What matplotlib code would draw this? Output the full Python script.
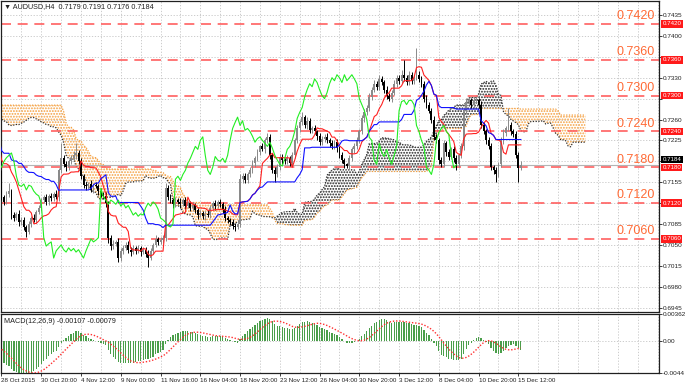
import matplotlib
matplotlib.use('Agg')
import matplotlib.pyplot as plt
import numpy as np

# prices are pips above 0.7000 (e.g. 130 -> 0.7130)
# 78 H4 bars before the first visible bar (needed by ichimoku / macd)
pre_close = [230, 238, 245, 250, 262, 270, 280, 290, 300, 315, 330, 340, 350,
             355, 362, 358, 365, 360, 370, 365, 372, 368, 362, 370, 375,
             372,
             378, 370, 372, 365, 358, 350, 355, 345, 340, 335, 330, 320, 325,
             315, 305, 300, 290, 285, 280, 272, 260, 245, 232,
             210, 190, 200, 215, 230, 245, 255, 262, 270, 275, 280, 285, 278, 282, 272, 268, 275, 265, 258, 262,
             255, 248, 250, 240, 245, 235,
             215, 195, 170]
pre_up = [4, 5, 3, 6, 4, 5, 3, 6, 4, 5, 7, 4, 5,
          4, 6, 3, 5, 4, 6, 3, 5, 4, 6, 5, 4,
          3,
          4, 5, 3, 6, 4, 5, 3, 4, 6, 5, 3, 4, 5,
          4, 5, 3, 6, 4, 5, 3, 4, 5, 6,
          5, 4, 6, 3, 5, 4, 6, 5, 4, 3, 5, 4, 6, 5, 4, 3, 5, 4, 6, 5,
          4, 5, 3, 6, 4, 5,
          4, 5, 6]
pre_dn = [5, 4, 6, 3, 5, 4, 6, 3, 5, 4, 6, 5, 4,
          5, 3, 6, 4, 5, 3, 6, 4, 5, 3, 4, 6,
          5,
          5, 4, 6, 3, 5, 4, 6, 5, 4, 6, 3, 5, 4,
          5, 4, 6, 5, 4, 6, 5, 4, 6, 5,
          6, 5, 5, 4, 6, 5, 4, 6, 5, 4, 6, 5, 4, 3, 5, 4, 6, 5, 4, 3,
          5, 4, 6, 5, 4, 6,
          5, 4, 6]

# visible bars, 28 Oct 2015 .. 15 Dec 2015
close = [130, 122, 135, 140, 100, 95, 102, 88, 92, 80,
         72, 85, 95, 92, 105, 112, 125, 130, 122, 132,
         128, 136, 130, 175, 195, 185, 180, 190, 196, 200,
         204, 190, 165, 150, 148, 152, 142, 150, 148, 140,
         135, 132, 120, 62, 48, 52, 55, 28, 40, 45,
         50, 42, 38, 45, 40, 44, 38, 42, 35, 28,
         40, 50, 60, 55, 58, 62, 145, 130, 125, 118,
         125, 122, 118, 125, 115, 120, 112, 116, 108, 100,
         104, 98, 102, 100, 112, 120, 115, 122, 118, 110,
         95, 92, 88, 82, 80, 85, 160, 165, 158, 168,
         175, 187, 195, 205, 215, 210, 225, 231, 200, 175,
         168, 180, 198, 192, 190, 195, 188, 200, 225, 245,
         255, 264, 250, 258, 242, 245, 240, 232, 222, 228,
         231, 225, 220, 215, 222, 212, 200, 192, 185, 182,
         195, 210, 215, 225, 240, 262, 272, 280, 298, 310,
         320, 315, 328, 322, 310, 300, 295, 305, 320, 330,
         325, 335, 330, 322, 335, 325, 330, 335, 328, 320,
         295, 285, 275, 260, 230, 225, 192, 185, 220, 205,
         198, 210, 195, 185, 200, 215, 275, 290, 292, 285,
         292, 292, 285, 250, 240, 225, 215, 180, 175, 168,
         185, 225, 238, 245, 250, 240, 235, 200, 179, 184]
up_wick = [5, 4, 6, 13, 4, 5, 3, 6, 4, 5,
           4, 5, 3, 6, 4, 5, 3, 4, 6, 3,
           5, 3, 6, 4, 26, 5, 6, 4, 5, 7,
           17, 5, 6, 4, 5, 3, 6, 4, 5, 4,
           5, 3, 6, 4, 5, 6, 4, 7, 5, 4,
           5, 6, 4, 5, 3, 6, 4, 5, 4, 6,
           5, 4, 6, 3, 5, 4, 8, 5, 6, 4,
           5, 3, 6, 4, 5, 3, 4, 6, 5, 4,
           5, 3, 4, 6, 5, 4, 6, 3, 5, 4,
           5, 4, 3, 6, 4, 5, 8, 5, 6, 4,
           5, 6, 4, 5, 3, 5, 4, 6, 5, 4,
           5, 6, 4, 5, 3, 6, 4, 5, 4, 6,
           5, 8, 4, 6, 5, 4, 6, 3, 5, 4,
           5, 6, 4, 5, 3, 6, 4, 5, 4, 3,
           5, 4, 6, 5, 4, 6, 5, 4, 6, 5,
           6, 4, 7, 5, 4, 6, 5, 4, 6, 5,
           4, 8, 25, 5, 6, 4, 5, 45, 6, 5,
           4, 6, 5, 4, 6, 5, 4, 6, 5, 4,
           5, 4, 6, 5, 4, 6, 5, 6, 5, 4,
           6, 5, 4, 6, 5, 4, 6, 5, 4, 5,
           4, 5, 6, 4, 30, 5, 4, 6, 5, 7]
dn_wick = [5, 6, 4, 5, 6, 5, 4, 6, 4, 5,
           9, 4, 5, 3, 6, 4, 5, 4, 6, 5,
           4, 5, 3, 6, 5, 4, 6, 5, 4, 5,
           6, 4, 5, 4, 6, 5, 4, 5, 3, 6,
           4, 5, 6, 8, 6, 5, 4, 7, 5, 6,
           4, 5, 6, 4, 5, 3, 6, 4, 5, 15,
           4, 5, 3, 6, 4, 5, 6, 5, 4, 6,
           5, 4, 6, 3, 5, 4, 6, 5, 4, 6,
           4, 5, 6, 4, 5, 3, 6, 4, 5, 6,
           5, 6, 4, 5, 6, 4, 5, 6, 4, 5,
           4, 5, 6, 4, 5, 3, 6, 5, 6, 5,
           13, 5, 4, 6, 5, 4, 6, 5, 4, 5,
           6, 4, 5, 6, 4, 5, 4, 6, 5, 4,
           5, 4, 6, 5, 4, 6, 5, 4, 6, 3,
           5, 4, 6, 5, 4, 5, 6, 4, 5, 6,
           4, 5, 6, 4, 5, 6, 4, 5, 4, 6,
           5, 4, 6, 5, 4, 6, 5, 4, 6, 5,
           6, 5, 4, 6, 5, 4, 6, 5, 4, 6,
           5, 4, 6, 10, 5, 4, 6, 5, 4, 6,
           5, 4, 6, 5, 4, 6, 5, 4, 6, 13,
           5, 4, 6, 5, 4, 6, 5, 4, 24, 3]

levels = [0.7420, 0.7360, 0.7300, 0.7240, 0.7180, 0.7120, 0.7060]
bid = 0.7184
date_labels = ['28 Oct 2015', '30 Oct 20:00', '4 Nov 12:00', '9 Nov 00:00', '11 Nov 16:00',
               '16 Nov 04:00', '18 Nov 20:00', '23 Nov 12:00', '26 Nov 04:00', '30 Nov 20:00',
               '3 Dec 12:00', '8 Dec 04:00', '10 Dec 20:00', '15 Dec 12:00']
header = '\u25bc AUDUSD,H4  0.7179 0.7191 0.7176 0.7184'
macd_title = 'MACD(12,26,9) -0.00107 -0.00079'

# ---- build OHLC ----
c = 0.7 + np.array(pre_close + close) / 10000.0
o = np.r_[c[0], c[:-1]]
h = np.maximum(o, c) + np.array(pre_up + up_wick) / 10000.0
l = np.minimum(o, c) - np.array(pre_dn + dn_wick) / 10000.0
n_pre = len(pre_close)
x = np.arange(len(c)) - n_pre


def midline(n):
    hh = np.array([h[max(0, i - n + 1):i + 1].max() for i in range(len(c))])
    ll = np.array([l[max(0, i - n + 1):i + 1].min() for i in range(len(c))])
    return (hh + ll) / 2


def ema(v, n):
    k = 2.0 / (n + 1)
    out = np.empty_like(v)
    out[0] = v[0]
    for i in range(1, len(v)):
        out[i] = v[i] * k + out[i - 1] * (1 - k)
    return out


tenkan = midline(9)
kijun = midline(26)
span_a = (tenkan + kijun) / 2
span_b = midline(52)
macd = ema(c, 12) - ema(c, 26)
signal = np.array([macd[max(0, i - 8):i + 1].mean() for i in range(len(macd))])

plt.rcParams['font.family'] = ['Liberation Sans', 'DejaVu Sans']
plt.rcParams['hatch.linewidth'] = 0.9

W, H = 685, 387
fig = plt.figure(figsize=(W / 100, H / 100), dpi=100)
fig.patch.set_facecolor('white')
ax = fig.add_axes([1 / W, 75 / H, 658 / W, 311 / H])
ax2 = fig.add_axes([1 / W, 14 / H, 658 / W, 59 / H], sharex=ax)

px = 2.485
x0 = -0.2
ax.set_xlim(x0, x0 + 658 / px)
ax.set_ylim(0.69376, 0.74585)
ax2.set_ylim(-0.00445, 0.00365)

grid_kw = dict(color='#c4c4c4', lw=0.6, ls=(0, (1.5, 2)), zorder=0)
for xv in np.arange(0, 270, 8):
    ax.axvline(xv, **grid_kw)
    ax2.axvline(xv, **grid_kw)
price_ticks = np.round(0.7435 - 0.0035 * np.arange(15), 4)
for yv in price_ticks:
    ax.axhline(yv, **grid_kw)
ax2.axhline(0, **grid_kw)

# ichimoku cloud (shifted 26 bars forward)
xs = x + 26
ax.fill_between(xs, span_a, span_b, where=span_b >= span_a, interpolate=True,
                facecolor='none', edgecolor='#f5a040', hatch='......', lw=0, zorder=1)
ax.fill_between(xs, span_a, span_b, where=span_a > span_b, interpolate=True,
                facecolor='none', edgecolor='#202020', hatch='......', lw=0, zorder=1)
ax.plot(xs, span_b, color='#f5a040', lw=0.9, ls=(0, (1, 1.2)), zorder=2)
ax.plot(xs, span_a, color='#303030', lw=0.9, ls=(0, (1, 1.2)), zorder=2)

# level lines
for lv in levels:
    ax.axhline(lv, color='#ff6060', lw=1.2, ls=(0, (6, 4)), zorder=2)
    ax.annotate(f'{lv:.4f}', xy=(0.993, lv), xycoords=('axes fraction', 'data'),
                xytext=(0, 1.2), textcoords='offset points', ha='right', va='bottom',
                fontsize=9, color='#ff6a35', zorder=6)
ax.axhline(bid, color='#b4b4b4', lw=0.8, zorder=2)

# candles
up = c >= o
col = np.where(up, '#8a8a8a', '#000000')
ax.vlines(x, l, h, colors=col, lw=0.7, zorder=3)
body = np.maximum(np.abs(c - o), 0.00004)
ax.bar(x, body, bottom=np.minimum(o, c), width=0.75, color=col, lw=0, zorder=3)

# tenkan, kijun, chikou
ax.plot(x, tenkan, color='#ff2020', lw=0.8, zorder=4)
ax.plot(x, kijun, color='#1010ff', lw=0.8, zorder=4)
ax.plot(x - 26, c, color='#22ee22', lw=0.8, zorder=4)

# macd panel
ax2.bar(x, macd, width=0.5, color='#4a9e4a', lw=0, zorder=2)
ax2.plot(x, signal, color='#ff3030', lw=1.0, ls=(0, (1, 1.3)), zorder=3)

# axes cosmetics
for a in (ax, ax2):
    for s in a.spines.values():
        s.set_color('#202020')
        s.set_linewidth(0.9)
    a.yaxis.tick_right()
    a.tick_params(axis='y', length=2, width=0.6, labelsize=4.6, pad=1, colors='#202020')
# tick labels hidden behind the price tags are left blank
tag_prices = levels + [bid]
ax.set_yticks(price_ticks)
ax.set_yticklabels(['' if min(abs(v - t) for t in tag_prices) < 0.0008 else f'{v:.4f}'
                    for v in price_ticks])
ax.tick_params(axis='x', length=0, labelbottom=False)
ax2.set_yticks([0.00362, 0.0, -0.0044])
ax2.set_yticklabels(['0.00362', '0.00', '-0.0044'])
ax2.set_xticks(np.arange(len(date_labels)) * 16)
ax2.set_xticklabels(date_labels)
ax2.tick_params(axis='x', length=2, width=0.6, labelsize=4.5, pad=1.5, colors='#202020')
for t in ax2.get_xticklabels():
    t.set_ha('left')

# price tags on the right scale
for lv in levels:
    ax.annotate(f'{lv:.4f}', xy=(1.0, lv), xycoords=('axes fraction', 'data'),
                xytext=(2.5, 0), textcoords='offset points', ha='left', va='center',
                fontsize=4.4, color='white', annotation_clip=False, zorder=7,
                bbox=dict(boxstyle='square,pad=0.2', fc='#ff1a1a', ec='none'))
ax.annotate(f'{bid:.4f}', xy=(1.0, bid), xycoords=('axes fraction', 'data'),
            xytext=(2.5, 4), textcoords='offset points', ha='left', va='center',
            fontsize=4.4, color='white', annotation_clip=False, zorder=7,
            bbox=dict(boxstyle='square,pad=0.2', fc='#000000', ec='none'))

ax.text(0.005, 0.995, header, transform=ax.transAxes, ha='left', va='top',
        fontsize=5.2, color='#202020', zorder=8)
ax2.text(0.005, 0.93, macd_title, transform=ax2.transAxes, ha='left', va='top',
         fontsize=5.2, color='#202020', zorder=8)

fig.savefig('out.png', dpi=100, facecolor='white')
